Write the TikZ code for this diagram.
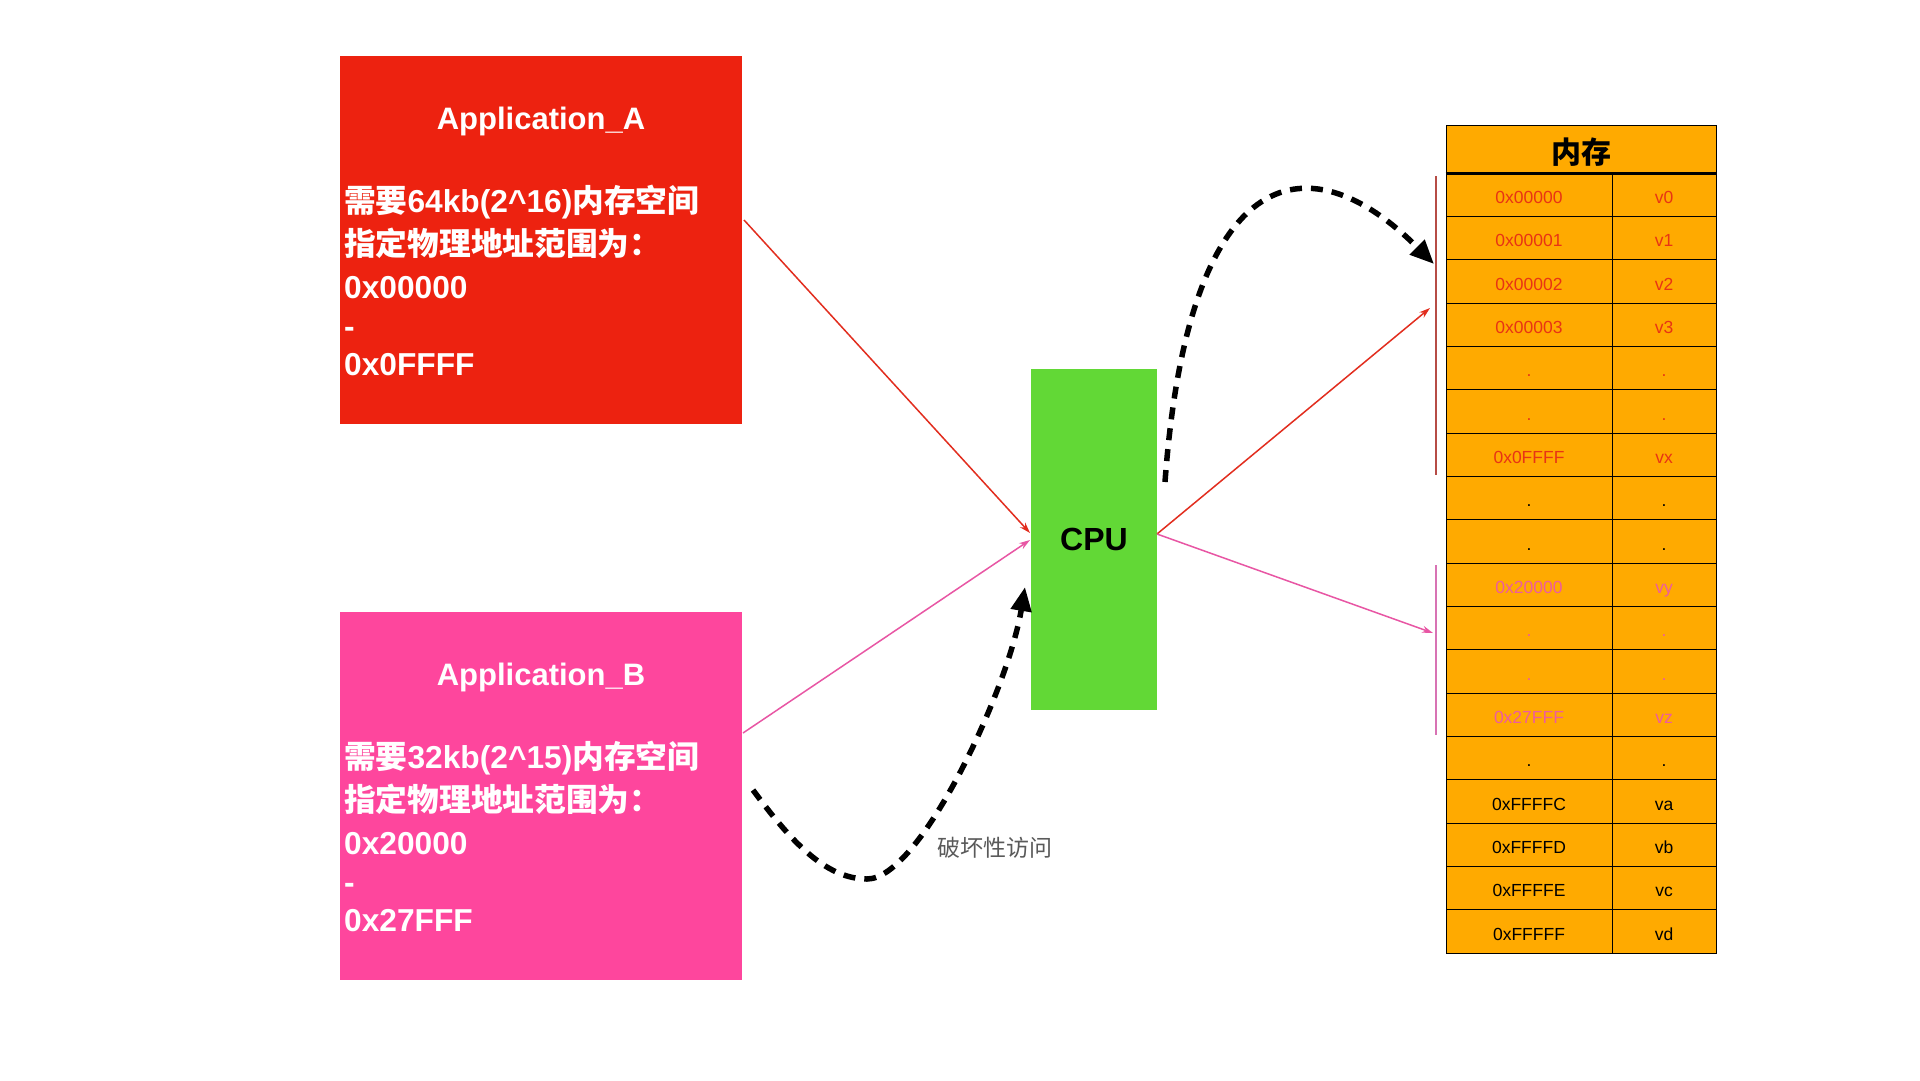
\documentclass[tikz,border=0pt]{standalone}
\usepackage{fontspec}
\setmainfont{Liberation Sans}
\newfontfamily\cjk{Noto Sans CJK SC}
\usetikzlibrary{arrows.meta}
\definecolor{appred}{RGB}{237,34,16}
\definecolor{apppink}{RGB}{254,70,157}
\definecolor{cpugreen}{RGB}{98,216,54}
\definecolor{memorange}{RGB}{255,170,0}
\definecolor{memred}{RGB}{232,52,20}
\definecolor{mempink}{RGB}{238,92,158}
\definecolor{linkred}{RGB}{226,45,30}
\definecolor{linkpink}{RGB}{232,86,164}
\definecolor{bracketred}{RGB}{182,76,70}
\definecolor{bracketpink}{RGB}{216,115,180}
\definecolor{notegray}{RGB}{90,90,90}
\begin{document}
\begin{tikzpicture}[x=1pt,y=-1pt,
  appbox/.style={rectangle, inner sep=0pt, minimum width=402pt, minimum height=368pt},
  apptitle/.style={anchor=base, text=white, inner sep=0pt, font=\fontsize{31}{36}\selectfont\bfseries},
  appline/.style={anchor=base west, text=white, inner sep=0pt, font=\fontsize{31.7}{36}\selectfont\bfseries},
  memcell/.style={draw=black, line width=1pt, fill=memorange, minimum height=43.33pt, inner sep=0pt,
                  text height=17.6pt, text depth=0pt, font=\fontsize{17.5}{20}\selectfont},
  link/.style={line width=1.5pt, -{Stealth[length=11pt,width=7pt]}},
  access/.style={line width=5.5pt, dash pattern=on 12pt off 9pt, -{Triangle[length=24pt,width=20pt]}},
  bracket/.style={line width=2pt}
]
\fill[white] (0,0) rectangle (1920,1080);
\useasboundingbox (0,0) rectangle (1920,1080);

% Application A
\node[appbox, fill=appred] (appA) at (541,240) {};
\node[apptitle] (appAt) at (541,129) {Application\_A};
\node[appline] (appA1) at (344,212) {{\cjk 需要}64kb(2\textasciicircum 16){\cjk 内存空间}};
\node[appline] (appA2) at (344,255) {{\cjk 指定物理地址范围为：}};
\node[appline] (appA3) at (344,298) {0x00000};
\node[appline] (appA4) at (344,337) {-};
\node[appline] (appA5) at (344,375) {0x0FFFF};

% Application B
\node[appbox, fill=apppink] (appB) at (541,796) {};
\node[apptitle] (appBt) at (541,685) {Application\_B};
\node[appline] (appB1) at (344,768) {{\cjk 需要}32kb(2\textasciicircum 15){\cjk 内存空间}};
\node[appline] (appB2) at (344,811) {{\cjk 指定物理地址范围为：}};
\node[appline] (appB3) at (344,854) {0x20000};
\node[appline] (appB4) at (344,893) {-};
\node[appline] (appB5) at (344,931) {0x27FFF};

% CPU
\node[rectangle, fill=cpugreen, minimum width=126pt, minimum height=341pt, inner sep=0pt,
      font=\fontsize{32}{36}\selectfont\bfseries] (cpu) at (1094,539.5) {CPU};

% Memory table
\node[memcell, minimum width=270pt, minimum height=48pt, text height=32pt, text depth=3.2pt,
      font=\cjk\bfseries\fontsize{30}{36}\selectfont] (memhead) at (1581,149) {内存};
\foreach \a/\v/\c [count=\i from 0] in {
  0x00000/v0/memred, 0x00001/v1/memred, 0x00002/v2/memred, 0x00003/v3/memred,
  {.}/{.}/memred, {.}/{.}/memred, 0x0FFFF/vx/memred,
  {.}/{.}/black, {.}/{.}/black,
  0x20000/vy/mempink, {.}/{.}/mempink, {.}/{.}/mempink, 0x27FFF/vz/mempink,
  {.}/{.}/black,
  0xFFFFC/va/black, 0xFFFFD/vb/black, 0xFFFFE/vc/black, 0xFFFFF/vd/black}{
  \node[memcell, minimum width=166pt, text=\c] (addr\i) at (1529,{173+43.333*\i+21.667}) {\a};
  \node[memcell, minimum width=104pt, text=\c] (val\i) at (1664,{173+43.333*\i+21.667}) {\v};
}
\draw[line width=2.5pt] (memhead.south west) -- (memhead.south east);

% Brackets
\coordinate (brA1) at (1436,176);
\coordinate (brA2) at (1436,475);
\coordinate (brB1) at (1436,565);
\coordinate (brB2) at (1436,735);
\draw[bracket, bracketred] (brA1) -- (brA2);
\draw[bracket, bracketpink] (brB1) -- (brB2);

% Links
\coordinate (aOut) at (744,220);
\coordinate (cpuInA) at (1030,533);
\coordinate (bOut) at (743,733);
\coordinate (cpuInB) at (1030,540);
\coordinate (cpuOut) at (1157,534);
\coordinate (memA) at (1430,308);
\coordinate (memB) at (1433,633);
\draw[link, linkred] (aOut) -- (cpuInA);
\draw[link, linkpink] (bOut) -- (cpuInB);
\draw[link, linkred] (cpuOut) -- (memA);
\draw[link, linkpink] (cpuOut) -- (memB);

% Dashed access arrows
\coordinate (jumpS) at (1165,482);
\coordinate (jumpE) at (1434,264);
\draw[access] (jumpS) .. controls (1188,168) and (1304,134) .. (jumpE);
\coordinate (badS) at (753,790);
\coordinate (badM) at (867,879);
\coordinate (badE) at (1025,587);
\draw[access] (badS) .. controls (790,840) and (825,879) .. (badM) .. controls (920,879) and (1008,690) .. (badE);
\node[anchor=west, inner sep=0pt, text=notegray, font=\cjk\fontsize{23}{28}\selectfont] (note) at (937,848) {破坏性访问};
\end{tikzpicture}
\end{document}
